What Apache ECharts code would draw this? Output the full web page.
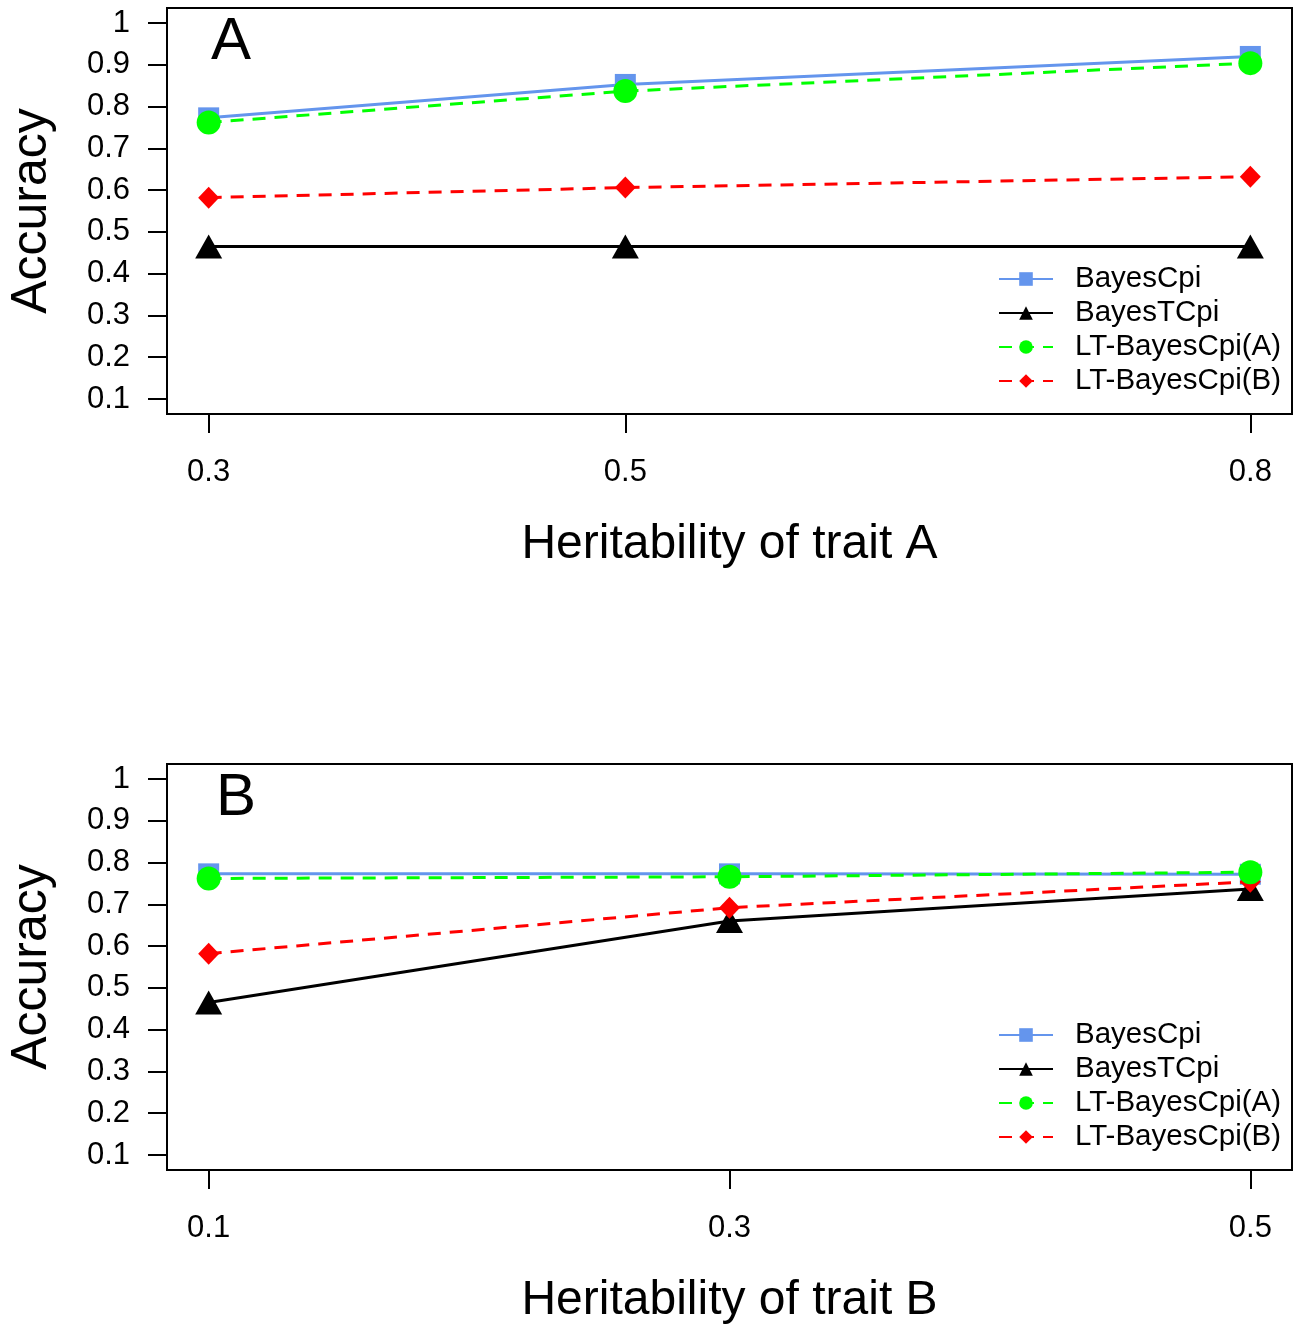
<!DOCTYPE html>
<html>
<head>
<meta charset="utf-8">
<script src="https://cdn.jsdelivr.net/npm/echarts@6/dist/echarts.min.js"></script>
<style>
  html, body { margin: 0; padding: 0; background: #fff; }
  #ech { width: 1298px; height: 1325px; }
</style>
</head>
<body>
<div id="ech"></div>
<script>
// x values (heritability) for each panel
var hA = [0.3, 0.5, 0.8];
var hB = [0.1, 0.3, 0.5];
var yTicks = [0.1, 0.2, 0.3, 0.4, 0.5, 0.6, 0.7, 0.8, 0.9, 1];
var names = ['BayesCpi', 'BayesTCpi', 'LT-BayesCpi(A)', 'LT-BayesCpi(B)'];

// panel A: varying heritability of trait A
var accA_BayesCpi  = [0.773, 0.853, 0.920];
var accA_BayesTCpi = [0.465, 0.465, 0.465];
var accA_LTA       = [0.762, 0.837, 0.904];
var accA_LTB       = [0.582, 0.606, 0.632];

// panel B: varying heritability of trait B
var accB_BayesCpi  = [0.773, 0.773, 0.772];
var accB_BayesTCpi = [0.465, 0.660, 0.737];
var accB_LTA       = [0.762, 0.766, 0.777];
var accB_LTB       = [0.582, 0.692, 0.754];

var FONT = "'Liberation Sans', Arial, sans-serif";

function pts(xs, ys) {
    return xs.map(function (x, i) { return [x, ys[i]]; });
}

// per-series look (color, marker, dash)
var looks = [
    { color: '#6495ED', symbol: 'rect', size: 21, type: 'solid', z: 2 },
    { color: '#000000', symbol: 'triangle', size: [27, 24], type: 'solid', z: 3 },
    { color: '#00FF00', symbol: 'circle', size: 24, type: [13, 9], z: 5 },
    { color: '#FF0000', symbol: 'diamond', size: [21, 22], type: [13, 9], z: 4 }
];

function makeSeries(idx, xs, lists) {
    return lists.map(function (ys, i) {
        var lk = looks[i];
        return {
            name: names[i],
            type: 'line',
            xAxisIndex: idx,
            yAxisIndex: idx,
            data: pts(xs, ys),
            symbol: lk.symbol,
            symbolSize: lk.size,
            z: lk.z,
            itemStyle: { color: lk.color },
            lineStyle: { color: lk.color, width: 3, type: lk.type },
            emphasis: { disabled: true },
            animation: false
        };
    });
}

function xAxisCfg(idx, xs, lo, hi, title) {
    return {
        type: 'value', gridIndex: idx, min: lo, max: hi,
        axisLine: { show: false },
        axisTick: { show: true, length: 19, customValues: xs, lineStyle: { color: '#000', width: 2 } },
        axisLabel: { customValues: xs, margin: 43, color: '#000', fontSize: 31, fontFamily: FONT,
            formatter: function (v) { return String(v); } },
        splitLine: { show: false },
        name: title, nameLocation: 'middle', nameGap: 107,
        nameTextStyle: { color: '#000', fontSize: 48, fontFamily: FONT }
    };
}

function yAxisCfg(idx) {
    return {
        type: 'value', gridIndex: idx, min: 0.064, max: 1.036,
        axisLine: { show: false },
        axisTick: { show: true, length: 19, customValues: yTicks, lineStyle: { color: '#000', width: 2 } },
        axisLabel: { customValues: yTicks, margin: 37, color: '#000', fontSize: 31, fontFamily: FONT,
            formatter: function (v) { return String(Math.round(v * 10) / 10); } },
        splitLine: { show: false },
        name: 'Accuracy', nameLocation: 'middle', nameGap: 110, nameRotate: 90,
        nameTextStyle: { color: '#000', fontSize: 50, fontFamily: FONT }
    };
}

function legendCfg(top) {
    return {
        data: names, left: 998, top: top, orient: 'vertical',
        padding: 0, itemGap: 0, itemWidth: 54, itemHeight: 17,
        selectedMode: false,
        textStyle: { color: '#000', fontSize: 29.5, fontFamily: FONT, lineHeight: 34, padding: [0, 0, 0, 17] }
    };
}

var ownChart = echarts.init(document.getElementById('ech'));
var option = {
    backgroundColor: '#fff',
    title: [
        { text: 'A', left: 206, top: 7, textStyle: { fontSize: 60, fontWeight: 'normal', color: '#000', fontFamily: FONT } },
        { text: 'B', left: 211, top: 763, textStyle: { fontSize: 60, fontWeight: 'normal', color: '#000', fontFamily: FONT } }
    ],
    grid: [
        { left: 167, top: 8, width: 1125, height: 406, show: true, borderColor: '#000', borderWidth: 2,
          backgroundColor: 'transparent', outerBoundsMode: 'none' },
        { left: 167, top: 764, width: 1125, height: 406, show: true, borderColor: '#000', borderWidth: 2,
          backgroundColor: 'transparent', outerBoundsMode: 'none' }
    ],
    xAxis: [
        xAxisCfg(0, hA, 0.28, 0.82, 'Heritability of trait A'),
        xAxisCfg(1, hB, 0.084, 0.516, 'Heritability of trait B')
    ],
    yAxis: [yAxisCfg(0), yAxisCfg(1)],
    legend: [legendCfg(262), legendCfg(1018)],
    series: makeSeries(0, hA, [accA_BayesCpi, accA_BayesTCpi, accA_LTA, accA_LTB])
        .concat(makeSeries(1, hB, [accB_BayesCpi, accB_BayesTCpi, accB_LTA, accB_LTB]))
};
ownChart.setOption(option);
</script>
</body>
</html>
